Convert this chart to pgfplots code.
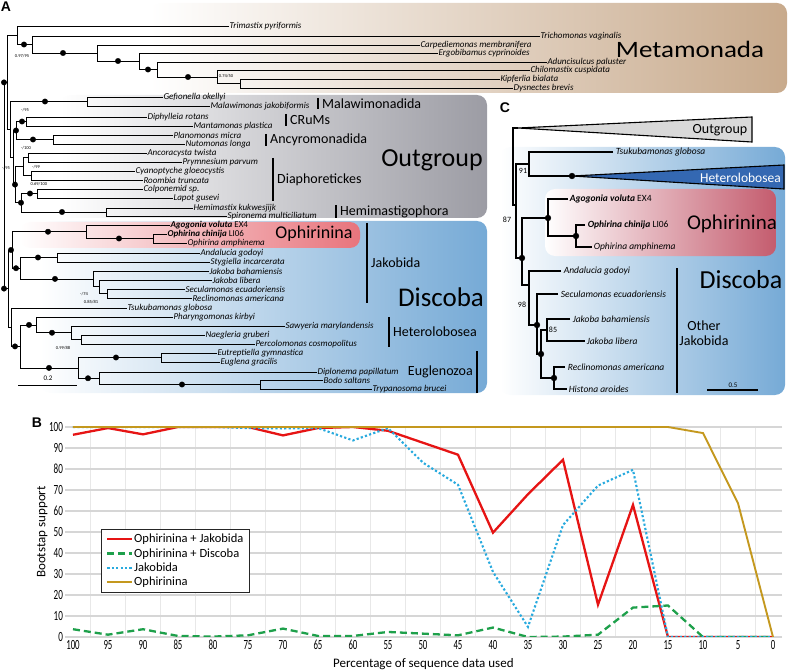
\documentclass[border=0pt]{standalone}
\usepackage{fontspec}
\setmainfont{Carlito}
\newfontfamily\arialf{Liberation Sans}
\usepackage{graphicx}
\usepackage{pgfplots}
\pgfplotsset{compat=1.18}
\definecolor{metaR}{RGB}{200,170,140}
\definecolor{outR}{RGB}{156,156,164}
\definecolor{discR}{RGB}{118,170,214}
\definecolor{ophR}{RGB}{232,116,124}
\definecolor{ophC}{RGB}{196,92,110}
\definecolor{hetC}{RGB}{52,104,178}
\definecolor{cred}{RGB}{230,20,20}
\definecolor{cgreen}{RGB}{30,160,75}
\definecolor{cblue}{RGB}{40,170,222}
\definecolor{cgold}{RGB}{196,152,30}
\newcommand{\fs}[1]{\fontsize{#1}{#1}\selectfont}
\newcommand{\lf}[3]{\node[anchor=west,inner sep=0.3pt,font=\fs{9}\itshape] at (#1,#2) {#3};}
\newcommand{\lc}[3]{\node[anchor=west,inner sep=0.6pt,font=\fs{9.5}\itshape] at (#1,#2) {#3};}
\newcommand{\sv}[3]{\node[inner sep=0pt,font=\fs{4.5}] at (#1,#2) {#3};}
\newcommand{\grp}[5]{\draw[line width=2.4pt] (#1,#2) -- (#1,#3); \node[anchor=west,inner sep=0pt,font=\fs{14}] at (#1+4,#4) {#5};}
\begin{document}
\begin{tikzpicture}
\path[use as bounding box] (0,0) rectangle (788pt,672pt);
\begin{axis}[at={(0,0)}, anchor=south west, width=788pt, height=672pt, scale only axis,
  xmin=0, xmax=788, ymin=0, ymax=672, y dir=reverse, hide axis, clip=false]
% ---------- boxes panel A
\shade[left color=white, right color=metaR, rounded corners=10pt] (150,3) rectangle (787,93);
\shade[left color=white, right color=outR, rounded corners=10pt] (60,95) rectangle (487,218);
\shade[left color=white, right color=discR, rounded corners=10pt] (40,221) rectangle (487,393);
\shade[left color=white, right color=ophR, rounded corners=10pt] (20,222) rectangle (360,248);
% ---------- boxes panel C
\shade[left color=white, right color=discR, rounded corners=10pt] (500,147) rectangle (785,395);
\shade[left color=white, right color=ophC, rounded corners=10pt] (545,189) rectangle (776,256);
\filldraw[fill=black!15, draw=black, line width=1.1pt] (518,128) -- (752,117) -- (752,142) -- cycle;
\filldraw[fill=hetC, draw=black, line width=1.1pt] (572,176) -- (784,165) -- (784,189) -- cycle;
% ---------- tree A
\addplot[black, line width=0.8pt, unbounded coords=jump, mark=none] coordinates {
(500,79) (240,79) (240,88) (513,88) (nan,nan)
(530,70) (217,70) (217,83.5) (240,83.5) (nan,nan)
(547,62) (157,62) (157,77) (217,77) (nan,nan)
(438,53) (139,53) (139,69.5) (157,69.5) (nan,nan)
(420,45) (97,45) (97,61) (139,61) (nan,nan)
(540,36) (32,36) (32,53) (97,53) (nan,nan)
(229,26) (17,26) (17,44.5) (32,44.5) (nan,nan)
(17,35.25) (7,35.25) (7,129.5) (10,129.5) (nan,nan)
(163,97) (87,97) (87,106) (210,106) (nan,nan)
(147,117) (26,117) (26,126) (193,126) (nan,nan)
(173,135) (53,135) (53,144) (185,144) (nan,nan)
(26,121.5) (16,121.5) (16,139.5) (53,139.5) (nan,nan)
(147,153) (28,153) (28,162) (182,162) (nan,nan)
(135,171) (31,171) (31,180) (143,180) (nan,nan)
(28,157.5) (23,157.5) (23,175.5) (31,175.5) (nan,nan)
(143,189) (37,189) (37,198) (173,198) (nan,nan)
(193,208) (106,208) (106,216) (227,216) (nan,nan)
(37,193.5) (21,193.5) (21,212) (106,212) (nan,nan)
(23,166.5) (15,166.5) (15,202.75) (21,202.75) (nan,nan)
(16,130.5) (13,130.5) (13,184.6) (15,184.6) (nan,nan)
(87,101.5) (10,101.5) (10,157.6) (13,157.6) (nan,nan)
(167,234) (153,234) (153,243) (187,243) (nan,nan)
(170,225) (86,225) (86,238.5) (153,238.5) (nan,nan)
(200,253) (57,253) (57,262) (210,262) (nan,nan)
(185,289) (107,289) (107,298) (192,298) (nan,nan)
(212,280) (99,280) (99,293.5) (107,293.5) (nan,nan)
(209,271) (93,271) (93,286.75) (99,286.75) (nan,nan)
(57,257.5) (20,257.5) (20,278.9) (93,278.9) (nan,nan)
(86,231.75) (12,231.75) (12,268.2) (20,268.2) (nan,nan)
(205,335) (81,335) (81,344) (255,344) (nan,nan)
(285,326) (71,326) (71,339.5) (81,339.5) (nan,nan)
(173,317) (36,317) (36,332.75) (71,332.75) (nan,nan)
(217,353) (161,353) (161,362) (220,362) (nan,nan)
(323,380) (260,380) (260,389) (372,389) (nan,nan)
(317,372) (99,372) (99,384.5) (260,384.5) (nan,nan)
(161,357.5) (78,357.5) (78,378.25) (99,378.25) (nan,nan)
(36,324.9) (20,324.9) (20,367.9) (78,367.9) (nan,nan)
(127,308) (11,308) (11,346.4) (20,346.4) (nan,nan)
(12,250) (8,250) (8,327.2) (11,327.2) (nan,nan)
(7,82.4) (4,82.4) (4,288.6) (8,288.6)
};
\addplot[only marks, mark=*, mark size=2.7pt, black] coordinates {
(24,44.5) (63,53) (118,61) (148,69.5) (188,77) (4,82.4) (45,101.5) (22,121.5) (16,130.5)
(33,139.5) (15,184.6) (30,193.5) (21,202.75) (62,212) (48,231.75) (119,238.5) (11,250)
(38,257.5) (16,268.2) (55,278.9) (4,288.6) (29,324.9) (52,332.75) (15,346.4) (116,357.5)
(49,367.9) (88,378.25) (182,384.5)};
% ---------- tree C
\addplot[black, line width=1.3pt, unbounded coords=jump, mark=none] coordinates {
(518,128) (513,128) (513,205) (516,205) (nan,nan)
(529,164) (516,164) (516,258) (522,258) (nan,nan)
(548,218) (522,218) (522,285) (529,285) (nan,nan)
(613,152) (529,152) (529,176) (572,176) (nan,nan)
(568,199) (548,199) (548,236) (576,236) (nan,nan)
(585,225) (576,225) (576,247) (592,247) (nan,nan)
(561,271) (529,271) (529,325) (537,325) (nan,nan)
(558,294) (537,294) (537,354) (541,354) (nan,nan)
(570,319) (547,319) (547,341) (585,341) (nan,nan)
(547,330) (541,330) (541,378) (554,378) (nan,nan)
(565,367) (554,367) (554,389) (567,389)
};
\addplot[only marks, mark=*, mark size=2.9pt, black] coordinates {
(572,176) (548,218) (576,236) (522,258) (537,325) (541,354) (554,378)};
% ---------- leaf labels A
\lf{229}{26}{Trimastix pyriformis}
\lf{540}{36}{Trichomonas vaginalis}
\lf{420}{45}{Carpediemonas membranifera}
\lf{438}{53}{Ergobibamus cyprinoides}
\lf{547}{62}{Aduncisulcus paluster}
\lf{530}{70}{Chilomastix cuspidata}
\lf{500}{79}{Kipferlia bialata}
\lf{513}{88}{Dysnectes brevis}
\lf{163}{97}{Gefionella okellyi}
\lf{210}{106}{Malawimonas jakobiformis}
\lf{147}{117}{Diphylleia rotans}
\lf{193}{126}{Mantamonas plastica}
\lf{173}{135}{Planomonas micra}
\lf{185}{144}{Nutomonas longa}
\lf{147}{153}{Ancoracysta twista}
\lf{182}{162}{Prymnesium parvum}
\lf{135}{171}{Cyanoptyche gloeocystis}
\lf{143}{180}{Roombia truncata}
\lf{143}{189}{Colponemid sp.}
\lf{173}{198}{Lapot gusevi}
\lf{193}{208}{Hemimastix kukwesjijk}
\lf{227}{216}{Spironema multiciliatum}
\lf{170}{225}{\textbf{Agogonia voluta} \upshape EX4}
\lf{167}{234}{\textbf{Ophirina chinija} \upshape LI06}
\lf{187}{243}{Ophirina amphinema}
\lf{200}{253}{Andalucia godoyi}
\lf{210}{262}{Stygiella incarcerata}
\lf{209}{271}{Jakoba bahamiensis}
\lf{212}{280}{Jakoba libera}
\lf{185}{289}{Seculamonas ecuadoriensis}
\lf{192}{298}{Reclinomonas americana}
\lf{127}{308}{Tsukubamonas globosa}
\lf{173}{317}{Pharyngomonas kirbyi}
\lf{285}{326}{Sawyeria marylandensis}
\lf{205}{335}{Naegleria gruberi}
\lf{255}{344}{Percolomonas cosmopolitus}
\lf{217}{353}{Eutreptiella gymnastica}
\lf{220}{362}{Euglena gracilis}
\lf{317}{372}{Diplonema papillatum}
\lf{323}{380}{Bodo saltans}
\lf{372}{389}{Trypanosoma brucei}
% support values A
\sv{22}{56}{0.97/95}
\sv{226}{76}{0.74/50}
\sv{25}{110}{-/95}
\sv{26}{148}{-/100}
\sv{36}{167}{-/99}
\sv{39}{184}{0.69/100}
\sv{6}{168}{-/95}
\sv{84}{294}{-/74}
\sv{91}{302}{0.85/81}
\sv{63}{348}{0.99/88}
% group labels A
\grp{318}{98}{109}{104}{Malawimonadida}
\grp{286}{114}{126}{120}{CRuMs}
\grp{266}{134}{146}{140}{Ancyromonadida}
\grp{273}{158}{201}{180}{Diaphoretickes}
\grp{336}{205}{218}{212}{Hemimastigophora}
\grp{367}{223}{303}{263}{Jakobida}
\grp{389}{317}{347}{332}{Heterolobosea}
\draw[line width=2.4pt] (477,351) -- (477,393);
\node[anchor=east,inner sep=0pt,font=\fs{14}] at (473,372) {Euglenozoa};
\node[font=\fs{23.5},inner sep=0pt] at (690,49) {\scalebox{1.15}[1]{Metamonada}};
\node[font=\fs{26}] at (432,160) {Outgroup};
\node[font=\fs{27}] at (441,297) {Discoba};
\node[font=\fs{18}] at (314,234) {Ophirinina};
\draw[line width=0.8pt] (18,385) -- (77,385);
\node[font=\fs{7},inner sep=0pt] at (48,378) {0.2};
% ---------- labels C
\lc{615}{152}{Tsukubamonas globosa}
\lc{569}{199}{\textbf{Agogonia voluta} \upshape EX4}
\lc{587}{225}{\textbf{Ophirina chinija} \upshape LI06}
\lc{593}{247}{Ophirina amphinema}
\lc{563}{271}{Andalucia godoyi}
\lc{560}{294}{Seculamonas ecuadoriensis}
\lc{572}{319}{Jakoba bahamiensis}
\lc{586}{341}{Jakoba libera}
\lc{567}{367}{Reclinomonas americana}
\lc{568}{389}{Histona aroides}
\node[font=\fs{8},inner sep=0pt] at (523,171) {91};
\node[font=\fs{8},inner sep=0pt] at (507,220) {87};
\node[font=\fs{8},inner sep=0pt] at (522,305) {98};
\node[font=\fs{8},inner sep=0pt] at (553,330) {85};
\node[font=\fs{14}] at (720,130) {Outgroup};
\node[anchor=east,font=\fs{13.5},text=white,inner sep=0pt] at (781,178) {Heterolobosea};
\node[font=\fs{21}] at (732,224) {Ophirinina};
\node[font=\fs{26}] at (741,280) {Discoba};
\draw[line width=1.2pt] (677,268) -- (677,393);
\node[font=\fs{14},align=center,inner sep=0pt] at (704,333) {Other\\[1pt]Jakobida};
\draw[line width=1.2pt] (707,390) -- (758,390);
\node[font=\fs{7},inner sep=0pt] at (733,385) {0.5};
% panel letters
\node[font=\arialf\bfseries\fs{14},inner sep=0pt] at (6,7) {A};
\node[font=\arialf\bfseries\fs{14},inner sep=0pt] at (505,108) {C};
\node[font=\arialf\bfseries\fs{14},inner sep=0pt] at (37,423) {B};
\end{axis}
% ================= panel B
\begin{axis}[at={(64.6pt,35pt)}, anchor=south west, width=717.5pt, height=210pt, scale only axis,
  x dir=reverse, xmin=-1.3, xmax=101.2, ymin=0, ymax=100,
  xtick={0,5,...,100}, ytick={0,10,...,100},
  minor xtick={2.5,7.5,...,97.5},
  xminorgrids=true, ymajorgrids=true,
  minor grid style={draw=black!9, line width=0.6pt},
  major grid style={draw=black!16, line width=1.2pt},
  axis line style={draw=none},
  major tick length=0pt, minor tick length=0pt,
  /pgf/number format/assume math mode=true,
  xticklabel={\scalebox{0.63}[1]{\pgfmathprintnumber{\tick}}},
  yticklabel={\scalebox{0.65}[1]{\pgfmathprintnumber{\tick}}},
  ticklabel style={font=\fs{14}},
  xticklabel style={inner sep=0pt, yshift=-3pt},
  yticklabel style={inner sep=0pt, xshift=-1.5pt, anchor=east},
  xlabel={Percentage of sequence data used}, ylabel={Bootstap support},
  label style={font=\fs{13}},
  xlabel style={at={(axis description cs:0.5,-0.1286)}, anchor=center},
  ylabel style={at={(axis description cs:-0.031,0.5)}, anchor=center},
  legend style={at={(axis description cs:0.0507,0.514)}, anchor=north west, font=\fs{12.5},
    draw=black!85, line width=0.6pt, inner xsep=5pt, inner ysep=4pt, row sep=3pt,
    nodes={inner sep=0.6pt}, cells={anchor=west}},
  legend image code/.code={\draw[#1] (0pt,0pt) -- (25pt,0pt);},
]
\addplot[cred, line width=2.3pt, mark=none] coordinates {
(100,96.3) (95,99.5) (90,96.5) (85,100) (80,100) (75,100) (70,96) (65,99.5) (60,100) (55,98.2)
(50,92.5) (45,86.8) (40,49.7) (35,68) (30,84.4) (25,15.4) (20,62.9) (15,0) (10,0) (5,0) (0,0)};
\addlegendentry{Ophirinina + Jakobida}
\addplot[cgreen, line width=2.3pt, dash pattern=on 7pt off 4pt, mark=none] coordinates {
(100,3.7) (95,1.1) (90,3.7) (85,0.5) (80,0.2) (75,0.8) (70,4) (65,0.5) (60,0.5) (55,2.4)
(50,1.6) (45,0.8) (40,4.5) (35,0) (30,0.2) (25,1.1) (20,14) (15,15) (10,0) (5,0) (0,0)};
\addlegendentry{Ophirinina + Discoba}
\addplot[cblue, line width=2.1pt, dash pattern=on 2.2pt off 2.2pt, mark=none] coordinates {
(100,100) (95,100) (90,100) (85,100) (80,100) (75,99.5) (70,99.3) (65,99.5) (60,93.6) (55,99.5)
(50,83) (45,72.5) (40,31) (35,4.8) (30,53.3) (25,72.1) (20,79.6) (15,0) (10,0) (5,0) (0,0)};
\addlegendentry{Jakobida}
\addplot[cgold, line width=1.9pt, mark=none] coordinates {
(100,100) (95,100) (90,100) (85,100) (80,100) (75,100) (70,100) (65,100) (60,100) (55,100)
(50,100) (45,100) (40,100) (35,100) (30,100) (25,100) (20,100) (15,100) (10,97.1) (5,63.7) (0,0)};
\addlegendentry{Ophirinina}
\end{axis}
\end{tikzpicture}
\end{document}
